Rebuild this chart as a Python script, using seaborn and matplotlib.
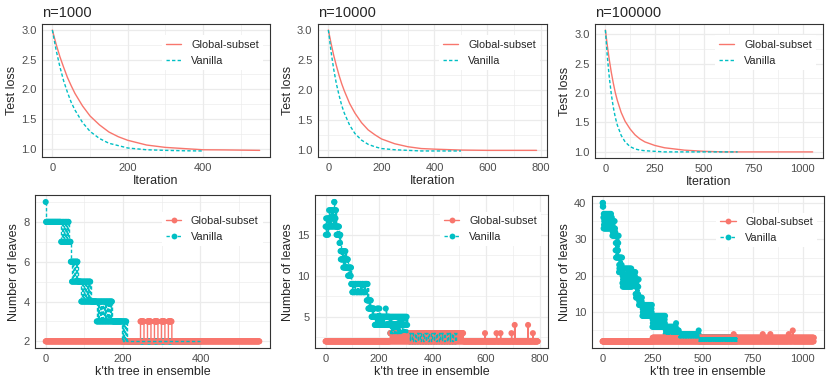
import matplotlib
matplotlib.use("Agg")
import numpy as np
import pandas as pd
import matplotlib.pyplot as plt
from matplotlib.lines import Line2D
from matplotlib.ticker import MultipleLocator, AutoMinorLocator
import seaborn as sns

GS_COLOR = "#F8766D"
VAN_COLOR = "#00BFC4"
METHODS = ["Global-subset", "Vanilla"]
PALETTE = {"Global-subset": GS_COLOR, "Vanilla": VAN_COLOR}
TITLES = ["n=1000", "n=10000", "n=100000"]

# ---- top row: test loss per boosting iteration ----
ITER_GS_1000 = [0, 10, 20, 30, 40, 50, 60, 80, 100, 125, 150, 175, 200, 250, 300, 350, 400, 450, 500, 550]
LOSS_GS_1000 = [3.00, 2.76, 2.55, 2.37, 2.20, 2.06, 1.93, 1.72, 1.55, 1.40, 1.28, 1.20, 1.14, 1.06, 1.02,
                1.00, 0.98, 0.978, 0.974, 0.97]
ITER_VAN_1000 = [0, 10, 20, 30, 40, 50, 60, 80, 100, 125, 150, 175, 200, 250, 300, 350, 400]
LOSS_VAN_1000 = [3.00, 2.66, 2.38, 2.14, 1.95, 1.78, 1.65, 1.44, 1.29, 1.17, 1.09, 1.05, 1.01, 0.98, 0.97,
                 0.963, 0.96]

ITER_GS_10000 = [0, 10, 20, 30, 40, 50, 60, 80, 100, 125, 150, 175, 200, 250, 300, 350, 400, 500, 600, 700, 785]
LOSS_GS_10000 = [3.00, 2.78, 2.58, 2.41, 2.25, 2.11, 1.99, 1.78, 1.62, 1.46, 1.34, 1.26, 1.19, 1.11, 1.06,
                 1.03, 1.02, 1.005, 1.00, 1.00, 1.00]
ITER_VAN_10000 = [0, 10, 20, 30, 40, 50, 60, 80, 100, 125, 150, 175, 200, 250, 300, 350, 400, 500]
LOSS_VAN_10000 = [3.00, 2.64, 2.35, 2.11, 1.92, 1.75, 1.62, 1.42, 1.28, 1.17, 1.10, 1.06, 1.03, 1.01, 1.00,
                  0.99, 0.99, 0.99]

ITER_GS_100000 = [0, 10, 20, 30, 40, 50, 60, 80, 100, 125, 150, 175, 200, 250, 300, 350, 400, 500, 600, 800, 1050]
LOSS_GS_100000 = [3.07, 2.80, 2.56, 2.35, 2.17, 2.01, 1.88, 1.67, 1.52, 1.39, 1.29, 1.22, 1.17, 1.11, 1.07,
                  1.05, 1.03, 1.01, 1.00, 1.00, 1.00]
ITER_VAN_100000 = [0, 10, 20, 30, 40, 50, 60, 80, 100, 125, 150, 175, 200, 250, 300, 400, 500, 670]
LOSS_VAN_100000 = [3.07, 2.61, 2.26, 1.98, 1.76, 1.59, 1.46, 1.28, 1.17, 1.09, 1.05, 1.03, 1.02, 1.01, 1.00,
                   1.00, 1.00, 1.00]

# ---- bottom row: leaves of the k'th tree, as runs of (value, count).
# a tuple value means consecutive trees in the run cycle through those values
LEAVES_GS_1000 = [(2, 245), (3, 9), (2, 9), (3, 9), (2, 9), (3, 9), (2, 9), (3, 9), (2, 9), (3, 9), (2, 227)]
LEAVES_VAN_1000 = [(9, 1), (8, 37), ((8, 8, 7, 7), 24), (7, 3), ((6, 6, 6, 5, 5), 19), (5, 6),
                   ((5, 5, 4, 4), 26), (4, 14), ((4, 4, 3, 3), 43), (3, 22), ((3, 3, 2, 2), 14), (2, 192)]

LEAVES_GS_10000 = [(2, 242), ((3, 2), 274), (2, 80), (3, 1), (2, 42), (3, 1), (2, 14), (3, 1), (2, 40),
                   (3, 1), (2, 11), (4, 1), (2, 49), (4, 1), (2, 17), (3, 1), (2, 18)]
LEAVES_VAN_10000 = [((16, 15, 17, 16), 12), ((17, 18, 16, 17), 20), (19, 2), ((17, 16, 18), 6),
                    ((16, 15), 12), ((14, 15), 4), ((13, 12), 8), ((12, 13, 11), 12), ((11, 12), 8),
                    ((10, 11), 12),
                    (9, 4), (8, 3), (9, 3), (8, 3), (9, 5), (8, 3), (9, 3), (8, 3), (9, 4), (8, 3),
                    (9, 3), (8, 3), (9, 4), (8, 3), (9, 3), (8, 3), (9, 4),
                    ((9, 7), 6), ((7, 6), 12), ((6, 5), 12), ((5, 4), 8), ((5, 4, 6, 4), 12),
                    ((4, 5), 22), (6, 1), ((4, 5), 15), ((4, 3, 5, 3), 66),
                    ((3, 3, 3, 3, 3, 3, 3, 2, 2, 2), 184)]

LEAVES_GS_100000 = [(2, 250), ((3, 2), 405), (4, 1), ((3, 2), 144), (4, 1), ((3, 2), 37), (4, 1),
                    ((2, 3), 91), (4, 1), ((3, 2), 19), (5, 1), ((3, 2), 105)]
LEAVES_VAN_100000 = [((40, 39), 4), ((36, 33, 37, 34, 35, 33), 44), ((35, 31, 33, 32), 16),
                     ((31, 27, 29, 25), 17), ((25, 21, 23, 22), 17), ((22, 18, 20, 17, 19), 50),
                     ((21, 20, 18), 16), ((19, 15, 17, 14), 17), ((14, 12, 13), 17),
                     ((12, 9, 11, 10), 50), ((9, 6, 8, 7), 66), ((6, 4, 5), 53), (7, 1), ((5, 4), 13),
                     ((4, 3), 99), (5, 1), ((3, 2, 3, 3), 192)]

TOP_DATA = [
    (ITER_GS_1000, LOSS_GS_1000, ITER_VAN_1000, LOSS_VAN_1000),
    (ITER_GS_10000, LOSS_GS_10000, ITER_VAN_10000, LOSS_VAN_10000),
    (ITER_GS_100000, LOSS_GS_100000, ITER_VAN_100000, LOSS_VAN_100000),
]
BOTTOM_DATA = [
    (LEAVES_GS_1000, LEAVES_VAN_1000),
    (LEAVES_GS_10000, LEAVES_VAN_10000),
    (LEAVES_GS_100000, LEAVES_VAN_100000),
]
TOP_XSTEP = [200, 200, 250]
BOTTOM_YSTEP = [2, 5, 10]

VAN_DASH = (2.4, 1.6)


def expand(runs):
    out = []
    for val, n in runs:
        pat = val if isinstance(val, tuple) else (val,)
        out.extend(pat[i % len(pat)] for i in range(n))
    return np.array(out)


def style_axis(ax, xstep, ystep, xlabel, ylabel):
    ax.set_facecolor("white")
    ax.xaxis.set_major_locator(MultipleLocator(xstep))
    ax.yaxis.set_major_locator(MultipleLocator(ystep))
    ax.xaxis.set_minor_locator(AutoMinorLocator(2))
    ax.yaxis.set_minor_locator(AutoMinorLocator(2))
    ax.grid(which="major", color="#EBEBEB", linewidth=0.9)
    ax.grid(which="minor", color="#EBEBEB", linewidth=0.45)
    ax.set_axisbelow(True)
    for sp in ax.spines.values():
        sp.set_visible(True)
        sp.set_color("#333333")
        sp.set_linewidth(0.8)
    ax.tick_params(which="major", length=2.5, width=0.6, color="#333333",
                   labelsize=8.0, labelcolor="#4D4D4D", pad=1.5)
    ax.tick_params(which="minor", length=0)
    ax.set_xlabel(xlabel, fontsize=9.0, labelpad=1.5)
    ax.set_ylabel(ylabel, fontsize=9.0, labelpad=2)


def add_legend(ax, with_points, anchor_y):
    kw = dict(marker="o", markersize=4.2, markeredgewidth=0) if with_points else {}
    handles = [Line2D([], [], color=GS_COLOR, lw=1.0, **kw),
               Line2D([], [], color=VAN_COLOR, lw=1.0, dashes=VAN_DASH, **kw)]
    ax.legend(handles, METHODS, loc="upper right", bbox_to_anchor=(0.97, anchor_y),
              frameon=True, fancybox=False, facecolor="white", edgecolor="none", framealpha=1,
              fontsize=7.8, handlelength=1.4, handletextpad=0.9, labelspacing=0.55,
              borderpad=0.4, borderaxespad=0)


sns.set_theme(style="whitegrid")
plt.rcParams["font.family"] = ["Liberation Sans", "DejaVu Sans"]

fig = plt.figure(figsize=(8.3, 3.82), dpi=100)

TOP_RECTS = [[0.0506, 0.589, 0.2747, 0.3482],
             [0.3831, 0.589, 0.2759, 0.3482],
             [0.7169, 0.5864, 0.2747, 0.3508]]
BOTTOM_RECTS = [[0.0422, 0.0882, 0.2831, 0.4013],
                [0.3795, 0.0882, 0.2811, 0.4013],
                [0.7133, 0.0882, 0.2799, 0.3987]]

for i, (it_gs, l_gs, it_van, l_van) in enumerate(TOP_DATA):
    ax = fig.add_axes(TOP_RECTS[i])
    df = pd.concat([
        pd.DataFrame({"iteration": it_gs, "loss": l_gs, "method": "Global-subset"}),
        pd.DataFrame({"iteration": it_van, "loss": l_van, "method": "Vanilla"}),
    ], ignore_index=True)
    sns.lineplot(data=df, x="iteration", y="loss", hue="method", style="method",
                 hue_order=METHODS, style_order=METHODS, palette=PALETTE,
                 dashes={"Global-subset": "", "Vanilla": VAN_DASH},
                 estimator=None, linewidth=1.0, legend=False, ax=ax)
    style_axis(ax, TOP_XSTEP[i], 0.5, "Iteration", "Test loss")
    ax.set_title(TITLES[i], loc="left", fontsize=10.5, pad=5)
    add_legend(ax, False, 0.915)

for i, (runs_gs, runs_van) in enumerate(BOTTOM_DATA):
    ax = fig.add_axes(BOTTOM_RECTS[i])
    gs = expand(runs_gs)
    van = expand(runs_van)
    # vanilla rows first so the Global-subset points sit on top
    df = pd.concat([
        pd.DataFrame({"tree": np.arange(len(van)), "leaves": van, "method": "Vanilla"}),
        pd.DataFrame({"tree": np.arange(len(gs)), "leaves": gs, "method": "Global-subset"}),
    ], ignore_index=True)
    sns.scatterplot(data=df, x="tree", y="leaves", hue="method", palette=PALETTE,
                    s=19, linewidth=0, legend=False, ax=ax)
    sns.lineplot(data=df, x="tree", y="leaves", hue="method", style="method",
                 hue_order=METHODS, style_order=METHODS, palette=PALETTE,
                 dashes={"Global-subset": "", "Vanilla": VAN_DASH},
                 estimator=None, linewidth=1.0, drawstyle="steps-post", legend=False, ax=ax)
    style_axis(ax, TOP_XSTEP[i], BOTTOM_YSTEP[i], "k'th tree in ensemble", "Number of leaves")
    add_legend(ax, True, 0.89)

fig.savefig("out.png", dpi=100)
